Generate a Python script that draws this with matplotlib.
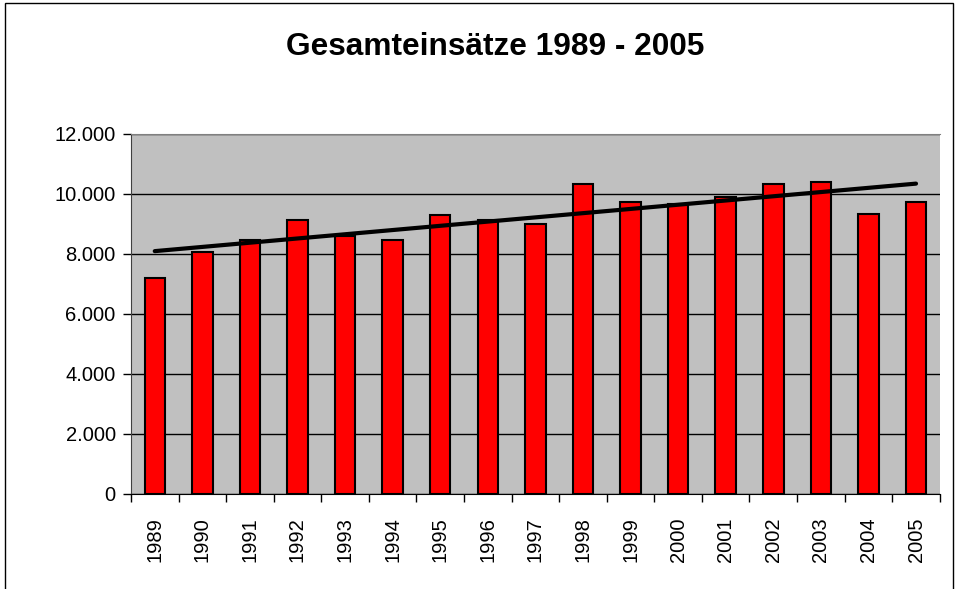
import matplotlib

matplotlib.use("Agg")
import matplotlib.pyplot as plt
import numpy as np
from matplotlib.patches import Rectangle
from matplotlib.ticker import FuncFormatter, FixedLocator

plt.rcParams["font.family"] = ["Liberation Sans", "DejaVu Sans"]

years = [str(y) for y in range(1989, 2006)]
einsaetze = [7200, 8060, 8470, 9130, 8600, 8470, 9310, 9130, 8990,
             10330, 9720, 9660, 9910, 10330, 10400, 9320, 9720]
title = "Gesamteinsätze 1989 - 2005"

fig = plt.figure(figsize=(9.58, 5.89), dpi=100)
ax = fig.add_axes([0.1367, 0.1613, 0.8443, 0.6112])
ax.set_facecolor("#c0c0c0")

x = np.arange(len(years))
ax.bar(x, einsaetze, width=0.43, color="#ff0000", edgecolor="black",
       linewidth=1.5, zorder=3)

# linear trend line (as in Excel)
k, d = np.polyfit(x, einsaetze, 1)
ax.plot(x, k * x + d, color="black", linewidth=3, zorder=4,
        solid_capstyle="round")

ax.set_xlim(-0.5, len(years) - 0.5)
ax.set_ylim(0, 12000)
ax.set_yticks(range(0, 12001, 2000))
ax.yaxis.set_major_formatter(
    FuncFormatter(lambda v, _: f"{int(v):,}".replace(",", ".")))
ax.grid(axis="y", color="black", linewidth=1, zorder=1)

ax.set_xticks(x)
ax.set_xticklabels(years, rotation=90)
ax.xaxis.set_minor_locator(FixedLocator(np.arange(-0.5, len(years), 1)))
ax.tick_params(axis="x", which="major", length=0, pad=17, labelsize=14.5)
ax.tick_params(axis="x", which="minor", length=6, width=1, color="black")
ax.tick_params(axis="y", length=6, width=1, pad=5, labelsize=14.5)

ax.spines["top"].set_color("#808080")
ax.spines["right"].set_visible(False)
ax.spines["left"].set_color("#404040")
ax.spines["bottom"].set_color("black")

fig.text(0.517, 0.92, title, ha="center", va="center", fontsize=22.8,
         fontweight="bold")

fig.patches.append(Rectangle((0.005, -0.05), 0.99, 1.045,
                             transform=fig.transFigure, fill=False,
                             edgecolor="black", linewidth=1))

fig.savefig("out.png", dpi=100)
